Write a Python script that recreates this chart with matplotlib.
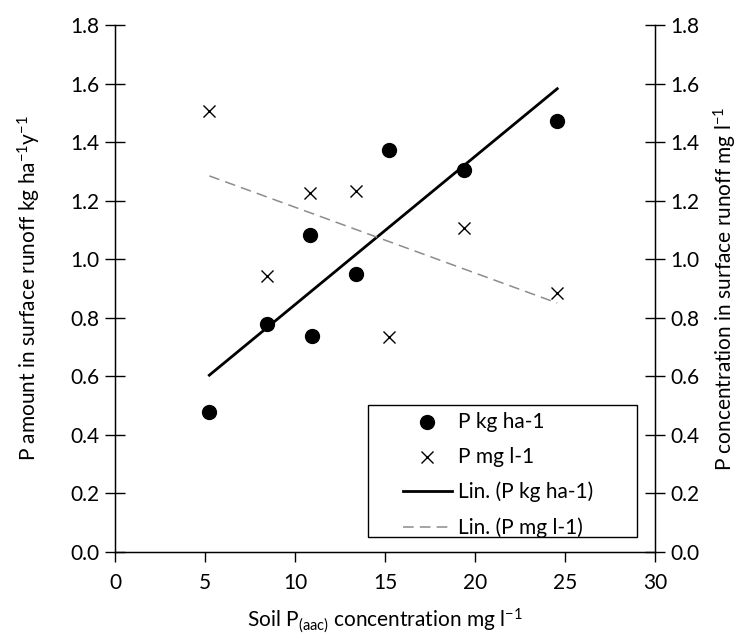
import numpy as np
import matplotlib.pyplot as plt
from matplotlib.patches import Rectangle

# soil P (aac) concentration, mg/l
soil_p = [5.24, 8.43, 10.81, 10.93, 13.41, 15.2, 19.37, 24.57]
# P amount in runoff, kg/ha/y
p_kg = [0.478, 0.778, 1.083, 0.737, 0.949, 1.372, 1.306, 1.472]
# P concentration in runoff, mg/l
soil_p_mg = [5.24, 8.43, 10.81, 13.41, 15.2, 19.37, 24.57]
p_mg = [1.506, 0.944, 1.226, 1.233, 0.735, 1.108, 0.885]

yticks = [0.0, 0.2, 0.4, 0.6, 0.8, 1.0, 1.2, 1.4, 1.6, 1.8]
xticks = [0, 5, 10, 15, 20, 25, 30]

plt.rcParams['font.family'] = ['Lato', 'DejaVu Sans']
plt.rcParams['mathtext.default'] = 'regular'
fs = 15

fig = plt.figure(figsize=(7.41, 6.37), dpi=100)
ax = fig.add_axes([0.1552, 0.1334, 0.7287, 0.8273])

ax.scatter(soil_p, p_kg, s=100, c='black', marker='o', label='P kg ha-1', zorder=3)
ax.scatter(soil_p_mg, p_mg, s=75, c='black', marker='x', linewidths=1.0, label='P mg l-1', zorder=3)

# linear trend lines
x1 = np.array([min(soil_p), max(soil_p)])
k1, b1 = np.polyfit(soil_p, p_kg, 1)
ax.plot(x1, k1 * x1 + b1, color='black', lw=2.0, label='Lin. (P kg ha-1)', zorder=2)
x2 = np.array([min(soil_p_mg), max(soil_p_mg)])
k2, b2 = np.polyfit(soil_p_mg, p_mg, 1)
ax.plot(x2, k2 * x2 + b2, color='#8c8c8c', lw=1.1, dashes=(7, 4), label='Lin. (P mg l-1)', zorder=2)

ax.set_xlim(0, 30)
ax.set_ylim(0, 1.8)
ax.set_xticks(xticks)
ax.set_yticks(yticks)
ax.set_yticklabels(['%.1f' % v for v in yticks])
ax.spines['top'].set_visible(False)
for s in ['left', 'bottom', 'right']:
    ax.spines[s].set_linewidth(1.0)
ax.tick_params(axis='x', direction='out', length=7, width=1, labelsize=fs, pad=8)
ax.tick_params(axis='y', direction='inout', length=14, width=1, labelsize=fs, pad=4)

ax2 = ax.twinx()
ax2.set_ylim(0, 1.8)
ax2.set_yticks(yticks)
ax2.set_yticklabels(['%.1f' % v for v in yticks])
ax2.spines['top'].set_visible(False)
ax2.tick_params(axis='y', direction='inout', length=14, width=1, labelsize=fs, pad=4)

ax.set_xlabel('Soil P$_{(aac)}$ concentration mg l$^{-1}$', fontsize=fs, labelpad=10)
ax.set_ylabel('P amount in surface runoff kg ha$^{-1}$y$^{-1}$', fontsize=fs, labelpad=20)
ax2.set_ylabel('P concentration in surface runoff mg l$^{-1}$', fontsize=fs, labelpad=9)

# legend (frame drawn separately, Excel style with wide left margin)
leg = ax.legend(loc='upper left', bbox_to_anchor=(0.533, 0.266), fontsize=fs,
                frameon=False, handlelength=2.35, handletextpad=0.3,
                labelspacing=0.72, borderpad=0, borderaxespad=0)
leg.set_zorder(5)
ax.add_patch(Rectangle((0.4685, 0.0285), 0.498, 0.2505, transform=ax.transAxes,
                       facecolor='white', edgecolor='black', lw=1.0, zorder=4))

fig.savefig('out.png', dpi=100)
